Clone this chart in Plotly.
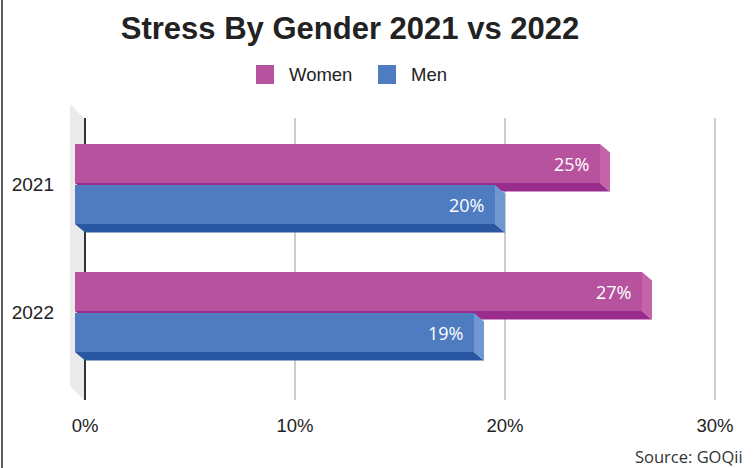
import plotly.graph_objects as go

# ---------------- data ----------------
years = ["2021", "2022"]
series_names = ["Women", "Men"]
women = [25, 27]
men = [20, 19]
x_ticks = [0, 10, 20, 30]
x_tick_labels = ["0%", "10%", "20%", "30%"]
title_text = "Stress By Gender 2021 vs 2022"
source_text = "Source: GOQii"

# ---------------- style / layout constants ----------------
W, H = 755, 468
L, R, T, B = 64, 19, 118, 68
PW, PH = W - L - R, H - T - B
X_RANGE = [-1, 31]
PX_PER_X = PW / (X_RANGE[1] - X_RANGE[0])      # px per % unit
PX_PER_CAT = 128.0                             # px between categories
Y_TOP = -66 / PX_PER_CAT
Y_BOT = Y_TOP + PH / PX_PER_CAT

DX = 10 / PX_PER_X          # 3D depth in x (data units)
DY = 8.5 / PX_PER_CAT       # 3D depth in y (data units)
BAR_W = 39 / PX_PER_CAT
OFFSETS = [-40 / PX_PER_CAT, 1 / PX_PER_CAT]

COLORS = {
    "Women": dict(front="#B7529E", strip="#9A2C8E", side="#C462AA"),
    "Men": dict(front="#4F7CC1", strip="#2A57A2", side="#6F97D1"),
}
FONT = "Liberation Sans, Arial, sans-serif"
FONT2 = "Open Sans, Noto Sans, sans-serif"


def px_x(p):
    return (p - L) / PW


def px_y(p):
    return (H - B - p) / PH


pos = list(range(len(years)))
fig = go.Figure()
shapes = []
annotations = []

for name, vals, off in zip(series_names, [women, men], OFFSETS):
    c = COLORS[name]
    fig.add_trace(go.Bar(
        orientation="h", y=pos, x=vals, base=[-DX] * len(vals),
        width=BAR_W, offset=off, name=name,
        marker=dict(color=c["front"], line=dict(width=0)),
        hoverinfo="skip", showlegend=False,
    ))
    for p, v in zip(pos, vals):
        yt = p + off
        yb = yt + BAR_W
        # bottom strip
        shapes.append(dict(
            type="path", xref="x", yref="y", layer="between",
            path=f"M{-DX},{yb} L{v - DX},{yb} L{v},{yb + DY} L0,{yb + DY} Z",
            fillcolor=c["strip"], line=dict(width=0),
        ))
        # right side face
        shapes.append(dict(
            type="path", xref="x", yref="y", layer="between",
            path=f"M{v - DX},{yt} L{v},{yt + DY} L{v},{yb + DY} L{v - DX},{yb} Z",
            fillcolor=c["side"], line=dict(width=0),
        ))
        annotations.append(dict(
            x=v - DX, y=yt + BAR_W / 2, xref="x", yref="y",
            text=f"{v}%", showarrow=False, xanchor="right", yanchor="middle",
            xshift=-9, font=dict(family=FONT2, size=18, color="white"),
        ))

# left wall (floor of the 3D axis)
shapes.append(dict(
    type="path", xref="paper", yref="paper", layer="below",
    path=(f"M{px_x(70)},{px_y(104)} L{px_x(84)},{px_y(118)} "
          f"L{px_x(84)},{px_y(400)} L{px_x(70)},{px_y(386)} Z"),
    fillcolor="#EBEBEB", line=dict(width=0),
))
# left frame line
shapes.append(dict(
    type="line", xref="paper", yref="paper", layer="above",
    x0=px_x(2), x1=px_x(2), y0=px_y(0), y1=px_y(H),
    line=dict(color="#5A5A5A", width=2),
))

# manual legend
legend_x = [256, 378]
for name, lx in zip(series_names, legend_x):
    shapes.append(dict(
        type="rect", xref="paper", yref="paper", layer="above",
        x0=px_x(lx), x1=px_x(lx + 18), y0=px_y(65), y1=px_y(84),
        fillcolor=COLORS[name]["front"], line=dict(width=0),
    ))
    annotations.append(dict(
        x=px_x(lx + 31), y=px_y(75), xref="paper", yref="paper",
        text=name, showarrow=False, xanchor="left", yanchor="middle",
        font=dict(family=FONT, size=18.5, color="#222222"),
    ))

annotations.append(dict(
    x=px_x(745), y=px_y(456), xref="paper", yref="paper",
    text=source_text, showarrow=False, xanchor="right", yanchor="middle",
    font=dict(family=FONT2, size=16.5, color="#333333"),
))

fig.update_layout(
    width=W, height=H,
    margin=dict(l=L, r=R, t=T, b=B, autoexpand=False),
    paper_bgcolor="white", plot_bgcolor="rgba(0,0,0,0)",
    barmode="overlay",
    showlegend=False,
    title=dict(
        text=f"<b>{title_text}</b>", x=350 / W, xanchor="center",
        y=1 - 28 / H, yanchor="middle", yref="container",
        font=dict(family=FONT, size=31, color="#222222"),
    ),
    xaxis=dict(
        range=X_RANGE, tickvals=x_ticks, ticktext=x_tick_labels,
        showgrid=True, gridcolor="#CCCCCC", gridwidth=2,
        zeroline=True, zerolinecolor="#333333", zerolinewidth=2,
        showline=False, ticks="", ticklabelstandoff=12,
        tickfont=dict(family=FONT, size=18.5, color="#222222"),
        fixedrange=True,
    ),
    yaxis=dict(
        range=[Y_BOT, Y_TOP], tickvals=pos, ticktext=years,
        showgrid=False, zeroline=False, showline=False, ticks="",
        ticklabelstandoff=9,
        tickfont=dict(family=FONT, size=19, color="#222222"),
        fixedrange=True,
    ),
    shapes=shapes,
    annotations=annotations,
)

fig.write_html(
    "out.html",
    config={"displayModeBar": False},
    post_script="document.body.style.margin='0';document.body.style.overflow='hidden';",
)
